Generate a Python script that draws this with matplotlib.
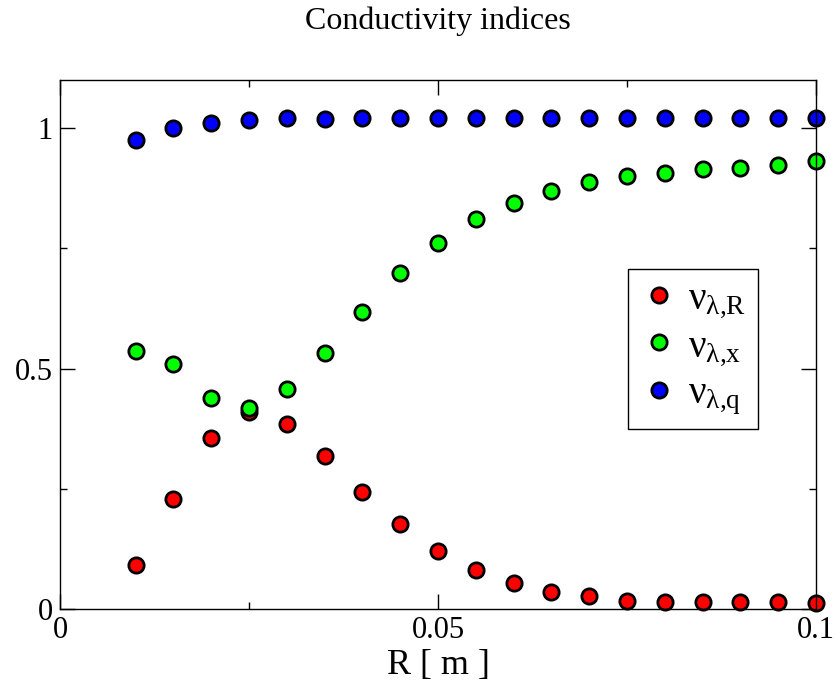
import matplotlib
matplotlib.use('Agg')
import matplotlib.pyplot as plt
import numpy as np

plt.rcParams['font.family'] = 'Liberation Serif'
plt.rcParams['mathtext.fontset'] = 'custom'
plt.rcParams['mathtext.rm'] = 'Liberation Serif'
plt.rcParams['mathtext.it'] = 'Liberation Serif'

R = [0.010, 0.015, 0.020, 0.025, 0.030, 0.035, 0.040, 0.045, 0.050, 0.055,
     0.060, 0.065, 0.070, 0.075, 0.080, 0.085, 0.090, 0.095, 0.100]
nu_R = [0.091, 0.229, 0.356, 0.409, 0.384, 0.319, 0.243, 0.177, 0.121, 0.081,
        0.055, 0.036, 0.026, 0.017, 0.014, 0.014, 0.014, 0.014, 0.012]
nu_x = [0.536, 0.509, 0.438, 0.417, 0.457, 0.533, 0.617, 0.698, 0.761, 0.810,
        0.844, 0.869, 0.887, 0.900, 0.907, 0.914, 0.917, 0.923, 0.932]
nu_q = [0.976, 1.001, 1.011, 1.016, 1.020, 1.019, 1.020, 1.020, 1.020, 1.021,
        1.021, 1.021, 1.021, 1.021, 1.021, 1.021, 1.021, 1.021, 1.021]

labels = [r'$\mathrm{\nu}_{\mathrm{\lambda{,}R}}$',
          r'$\mathrm{\nu}_{\mathrm{\lambda{,}x}}$',
          r'$\mathrm{\nu}_{\mathrm{\lambda{,}q}}$']
colors = ['#ff0000', '#00ff00', '#0000ff']

fig = plt.figure(figsize=(8.36, 6.87), dpi=100)
ax = fig.add_axes([60/836, 78/687, 756/836, 529/687])

for ys, c, lab in zip([nu_R, nu_x, nu_q], colors, labels):
    ax.plot(R, ys, 'o', ms=11, mfc=c, mec='black', mew=2, label=lab,
            clip_on=False)

ax.set_xlim(0, 0.1)
ax.set_ylim(0, 1.1)
ax.set_xticks([0, 0.05, 0.1])
ax.set_xticklabels(['0', '0.05', '0.1'])
ax.set_xticks([0.025, 0.075], minor=True)
ax.set_yticks([0, 0.5, 1])
ax.set_yticklabels(['0', '0.5', '1'])
ax.set_yticks([0.25, 0.75], minor=True)
ax.tick_params(which='both', direction='in', top=True, right=True,
               labelsize=22, width=1)
ax.tick_params(which='major', length=11, pad=5)
ax.tick_params(which='minor', length=5)
for s in ax.spines.values():
    s.set_linewidth(1)

ax.set_xlabel('R [ m ]', fontsize=26, labelpad=3)
fig.text(0.524, 1 - 21/687, 'Conductivity indices', fontsize=23,
         ha='center', va='center')

leg = ax.legend(loc='upper left', bbox_to_anchor=(0.751, 0.643),
                borderaxespad=0, fancybox=False, framealpha=1,
                edgecolor='black', fontsize=28, handletextpad=0.25,
                labelspacing=0.2, handlelength=1.0, borderpad=0.3)
leg.get_frame().set_linewidth(1)

fig.savefig('out.png', dpi=100)
